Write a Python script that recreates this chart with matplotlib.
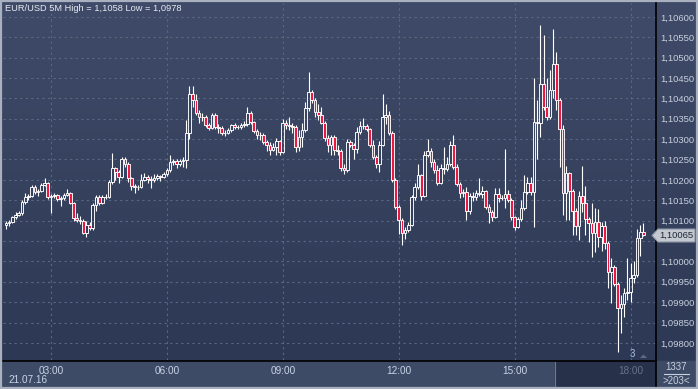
import numpy as np
import matplotlib.pyplot as plt
from matplotlib.patches import Rectangle, Polygon

plt.rcParams['font.family'] = ['Liberation Sans', 'DejaVu Sans']

# EUR/USD 5 minute candles, prices in points (1e-5)
first_open = 110090
closes = [110094, 110097, 110109, 110115, 110118, 110146, 110158, 110161, 110183, 110170,
          110173, 110188, 110193, 110158, 110161, 110163, 110153, 110155, 110163, 110168,
          110143, 110107, 110102, 110100, 110070, 110090, 110082, 110139, 110158, 110143,
          110158, 110158, 110195, 110228, 110220, 110207, 110251, 110239, 110205, 110185,
          110183, 110183, 110200, 110207, 110202, 110200, 110205, 110210, 110207, 110215,
          110225, 110244, 110247, 110239, 110247, 110249, 110315, 110411, 110396, 110364,
          110355, 110355, 110335, 110328, 110360, 110330, 110328, 110315, 110315, 110322,
          110335, 110330, 110330, 110335, 110337, 110364, 110342, 110320, 110310, 110310,
          110293, 110286, 110274, 110280, 110296, 110269, 110340, 110335, 110332, 110330,
          110280, 110305, 110323, 110376, 110416, 110396, 110367, 110360, 110340, 110303,
          110286, 110305, 110274, 110271, 110229, 110225, 110293, 110286, 110276, 110318,
          110332, 110332, 110325, 110286, 110257, 110239, 110286, 110355, 110360, 110315,
          110200, 110134, 110102, 110070, 110077, 110090, 110158, 110183, 110212, 110161,
          110261, 110270, 110244, 110225, 110193, 110229, 110227, 110239, 110286, 110232,
          110190, 110168, 110170, 110124, 110161, 110158, 110168, 110166, 110173, 110134,
          110122, 110110, 110166, 110156, 110156, 110166, 110151, 110110, 110085, 110104,
          110131, 110170, 110193, 110170, 110342, 110340, 110436, 110379, 110355, 110421,
          110485, 110396, 110325, 110168, 110217, 110173, 110124, 110087, 110161, 110143,
          110104, 110094, 110070, 110097, 110060, 110087, 110045, 109974, 109987, 109945,
          109886, 109896, 109923, 109925, 109960, 109967, 110058, 110072, 110065]
highs = [110098, 110102, 110112, 110120, 110124, 110150, 110168, 110166, 110187, 110188,
         110178, 110192, 110205, 110196, 110165, 110167, 110166, 110160, 110167, 110178,
         110170, 110146, 110118, 110112, 110103, 110100, 110096, 110143, 110162, 110162,
         110163, 110166, 110200, 110266, 110232, 110225, 110255, 110255, 110243, 110208,
         110190, 110188, 110215, 110216, 110212, 110210, 110214, 110214, 110212, 110220,
         110230, 110262, 110252, 110252, 110252, 110256, 110348, 110430, 110430, 110410,
         110372, 110364, 110360, 110340, 110365, 110364, 110336, 110332, 110322, 110328,
         110338, 110340, 110335, 110340, 110345, 110378, 110368, 110345, 110325, 110318,
         110314, 110298, 110292, 110290, 110302, 110298, 110350, 110346, 110355, 110340,
         110334, 110322, 110340, 110392, 110465, 110420, 110400, 110385, 110378, 110345,
         110310, 110310, 110310, 110286, 110275, 110240, 110300, 110298, 110290, 110330,
         110345, 110352, 110338, 110328, 110298, 110262, 110296, 110411, 110385, 110370,
         110320, 110205, 110138, 110106, 110085, 110096, 110162, 110192, 110240, 110215,
         110270, 110300, 110278, 110250, 110236, 110240, 110281, 110256, 110296, 110310,
         110238, 110195, 110178, 110182, 110168, 110170, 110176, 110205, 110186, 110176,
         110140, 110126, 110180, 110180, 110164, 110276, 110175, 110155, 110112, 110110,
         110150, 110212, 110206, 110208, 110450, 110396, 110580, 110556, 110450, 110470,
         110571, 110514, 110400, 110335, 110235, 110220, 110178, 110130, 110172, 110234,
         110185, 110110, 110143, 110130, 110128, 110097, 110100, 110050, 110009, 109992,
         109950, 109918, 109935, 110009, 109996, 110000, 110080, 110090, 110094]
lows = [110080, 110088, 110095, 110105, 110112, 110115, 110142, 110150, 110158, 110166,
        110160, 110170, 110185, 110154, 110119, 110156, 110148, 110136, 110150, 110160,
        110140, 110100, 110097, 110092, 110066, 110060, 110076, 110078, 110124, 110138,
        110140, 110152, 110155, 110190, 110200, 110192, 110204, 110232, 110196, 110176,
        110168, 110175, 110180, 110198, 110192, 110180, 110194, 110200, 110198, 110204,
        110210, 110220, 110236, 110230, 110234, 110232, 110229, 110300, 110380, 110358,
        110340, 110345, 110330, 110322, 110325, 110326, 110315, 110310, 110308, 110312,
        110318, 110325, 110324, 110326, 110330, 110332, 110336, 110314, 110300, 110298,
        110288, 110270, 110262, 110270, 110262, 110260, 110266, 110325, 110322, 110315,
        110268, 110272, 110280, 110318, 110370, 110388, 110355, 110348, 110336, 110296,
        110268, 110262, 110260, 110262, 110222, 110215, 110220, 110280, 110250, 110265,
        110312, 110325, 110320, 110280, 110250, 110228, 110220, 110282, 110336, 110310,
        110195, 110128, 110068, 110040, 110055, 110072, 110086, 110150, 110178, 110150,
        110158, 110255, 110232, 110218, 110188, 110190, 110215, 110222, 110234, 110226,
        110186, 110156, 110158, 110102, 110117, 110148, 110150, 110160, 110155, 110128,
        110094, 110100, 110106, 110145, 110150, 110131, 110145, 110102, 110076, 110082,
        110100, 110125, 110165, 110164, 110085, 110250, 110306, 110372, 110348, 110350,
        110400, 110372, 110232, 110114, 110102, 110102, 110065, 110065, 110053, 110120,
        110065, 110048, 110011, 110023, 110036, 110026, 110030, 109935, 109898, 109940,
        109778, 109824, 109864, 109905, 109900, 109947, 109962, 110013, 110062]

hour_ticks = [14, 50, 86, 122, 158, 194]
hour_labels = ['03:00', '06:00', '09:00', '12:00', '15:00', '18:00']
price_ticks = [109800, 109850, 109900, 109950, 110000, 110050, 110100, 110150, 110200,
               110250, 110300, 110350, 110400, 110450, 110500, 110550, 110600]
last_price = '1,10065'

W, H = 698, 389
fig = plt.figure(figsize=(W / 100, H / 100), dpi=100)
fig.patch.set_facecolor('#35415d')


def pix_axes(z):
    a = fig.add_axes([0, 0, 1, 1], zorder=z)
    a.set_xlim(0, W)
    a.set_ylim(H, 0)
    a.axis('off')
    a.patch.set_alpha(0)
    return a


# background: gradient, bottom time panel, separators
bg = pix_axes(-1)
grad = np.linspace(0, 1, 256).reshape(-1, 1)
top_c = np.array([0x3f, 0x4b, 0x68]) / 255
bot_c = np.array([0x2d, 0x38, 0x54]) / 255
img = top_c[None, None, :] * (1 - grad[..., None]) + bot_c[None, None, :] * grad[..., None]
bg.imshow(img, extent=[0, W, 361, 0], aspect='auto', zorder=0)
bg.add_patch(Rectangle((0, 361), W, H - 361, color='#3e4b66', zorder=1))
bg.add_patch(Rectangle((555, 361), 100, 25, color='#27314a', zorder=2))
bg.plot([554.5, 554.5], [362, 386], color='#6f7a8e', lw=0.8, zorder=3)
bg.plot([3, 655.5], [360.5, 360.5], color='black', lw=1.2, zorder=3)
bg.plot([655.5, 655.5], [0, H], color='black', lw=1.2, zorder=3)
bg.add_patch(Rectangle((1, 1), W - 2, H - 2, fill=False, ec='#a9b1c1', lw=1.6, zorder=4))

ax = fig.add_axes([3 / W, 1 - 360 / H, 652 / W, 357 / H], zorder=0)
ax.patch.set_alpha(0)
ax.set_xlim(-0.9, 201.6)
ax.set_ylim(109758, 110634)

x = np.arange(len(closes))
c = np.array(closes)
o = np.array([first_open] + closes[:-1])
hi = np.array(highs)
lo = np.array(lows)
body_hi = np.maximum(o, c)
body_lo = np.minimum(o, c)
up = c >= o

ax.vlines(x, body_hi, np.maximum(hi, body_hi), color='white', lw=0.8, zorder=3)
ax.vlines(x, np.minimum(lo, body_lo), body_lo, color='white', lw=0.8, zorder=3)
ax.bar(x, body_hi - body_lo, bottom=body_lo, width=0.84,
       color=['none' if u else '#ee1742' for u in up],
       edgecolor='white', linewidth=0.65, zorder=4)

ax.set_xticks(hour_ticks)
ax.set_xticklabels(hour_labels)
ax.set_yticks(price_ticks)
# the 1,10050 label sits under the last-price tag, as in the source chart
ax.set_yticklabels(['' if p == 110050 else '1,%05d' % (p - 100000) for p in price_ticks])
ax.yaxis.tick_right()
ax.tick_params(axis='y', length=0, pad=3.5, labelsize=6.8, labelcolor='#c8d0de')
ax.tick_params(axis='x', length=0, pad=4, labelsize=7.2, labelcolor='#c8d4e6')
ax.get_xticklabels()[-1].set_color('#66738a')
ax.grid(True, color='#596886', linestyle=(0, (2, 3)), linewidth=0.8)
for s in ax.spines.values():
    s.set_visible(False)

# overlay texts and price tag
ov = pix_axes(5)
ov.text(5, 8, 'EUR/USD 5M High = 1,1058 Low = 1,0978', ha='left', va='center',
        color='#e6eaf2', fontsize=6.7)
ov.add_patch(Polygon([(652, 235.5), (658, 229), (695, 229), (695, 242), (658, 242)],
                     closed=True, fc='#c4c8d0', ec='#8c95a5', lw=0.8))
ov.text(676.5, 235.8, last_price, ha='center', va='center', color='#1e2636', fontsize=6.8)
ov.text(632, 354, '3', ha='center', va='center', color='#a9c4e4', fontsize=7)
ov.add_patch(Polygon([(640, 358), (643.5, 354.5), (647, 358)], closed=True, fc='#5d6a80', ec='none'))
ov.text(8, 380, '21.07.16', ha='left', va='center', color='#c8d4e6', fontsize=7.2)
ov.text(676.5, 367.5, '1337', ha='center', va='center', color='#c8d0de', fontsize=7)
ov.plot([664, 689], [374, 374], color='#c8d0de', lw=0.8)
ov.text(676.5, 380.5, '>203<', ha='center', va='center', color='#c8d0de', fontsize=7)

fig.savefig('out.png', dpi=100, facecolor=fig.get_facecolor())
